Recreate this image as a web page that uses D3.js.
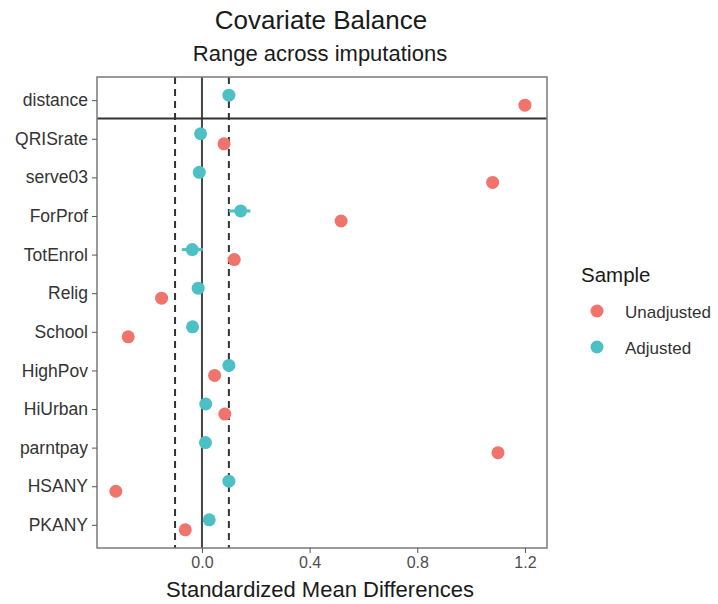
<!DOCTYPE html>
<html>
<head>
<meta charset="utf-8">
<script src="https://cdn.jsdelivr.net/npm/d3@7"></script>
<style>
  body { margin: 0; background: #fff; }
  svg { font-family: "Liberation Sans", Arial, sans-serif; }
</style>
</head>
<body>
<div id="chart"></div>
<script>
// covariates, top to bottom
var covariates = ["distance", "QRISrate", "serve03", "ForProf", "TotEnrol", "Relig",
                  "School", "HighPov", "HiUrban", "parntpay", "HSANY", "PKANY"];
// standardized mean differences
var unadjusted = [1.20, 0.082, 1.08, 0.517, 0.12, -0.15, -0.274, 0.047, 0.085, 1.10, -0.32, -0.062];
var adjusted   = [0.10, -0.005, -0.01, 0.144, -0.036, -0.014, -0.035, 0.10, 0.014, 0.013, 0.10, 0.027];
// range across imputations (adjusted)
var adjustedMin = [0.10, -0.005, -0.01, 0.10, -0.075, -0.014, -0.035, 0.10, 0.014, 0.013, 0.10, 0.027];
var adjustedMax = [0.10, -0.005, -0.01, 0.18, 0.003, -0.014, -0.035, 0.10, 0.014, 0.013, 0.10, 0.027];
var xTicks = [0, 0.4, 0.8, 1.2];
var threshold = 0.1;
var sampleNames = ["Unadjusted", "Adjusted"];
var sampleColors = ["#F0736C", "#4DC0C5"];

document.addEventListener('DOMContentLoaded', function () {
    var width = 718, height = 604;
    var panel = {left: 97, right: 547, top: 77, bottom: 548};

    var svg = d3.select("#chart").append("svg")
        .attr("width", width)
        .attr("height", height);

    var x = d3.scaleLinear()
        .domain([-0.39, 1.282])
        .range([panel.left, panel.right]);

    var y = d3.scalePoint()
        .domain(covariates)
        .range([panel.top, panel.bottom])
        .padding(0.6);

    var dodge = y.step() * 0.13;

    // titles
    svg.append("text")
        .attr("x", 321)
        .attr("y", 29)
        .attr("text-anchor", "middle")
        .style("font-size", "26px")
        .style("fill", "#1a1a1a")
        .text("Covariate Balance");

    svg.append("text")
        .attr("x", 320)
        .attr("y", 61)
        .attr("text-anchor", "middle")
        .style("font-size", "22px")
        .style("fill", "#1a1a1a")
        .text("Range across imputations");

    // threshold lines
    [-threshold, threshold].forEach(function (t) {
        svg.append("line")
            .attr("x1", x(t)).attr("x2", x(t))
            .attr("y1", panel.top).attr("y2", panel.bottom)
            .attr("stroke", "#333")
            .attr("stroke-width", 2)
            .attr("stroke-dasharray", "7,5");
    });

    // zero line
    svg.append("line")
        .attr("x1", x(0)).attr("x2", x(0))
        .attr("y1", panel.top).attr("y2", panel.bottom)
        .attr("stroke", "#444")
        .attr("stroke-width", 2);

    // separator under distance
    var sepY = (y(covariates[0]) + y(covariates[1])) / 2 - 1;
    svg.append("line")
        .attr("x1", panel.left).attr("x2", panel.right)
        .attr("y1", sepY).attr("y2", sepY)
        .attr("stroke", "#333")
        .attr("stroke-width", 2);

    // range lines for adjusted
    svg.selectAll(".rangeLine")
        .data(covariates)
        .enter()
        .append("line")
        .attr("class", "rangeLine")
        .attr("x1", function (d, i) { return x(adjustedMin[i]); })
        .attr("x2", function (d, i) { return x(adjustedMax[i]); })
        .attr("y1", function (d) { return y(d) - dodge; })
        .attr("y2", function (d) { return y(d) - dodge; })
        .attr("stroke", sampleColors[1])
        .attr("stroke-width", 3);

    // unadjusted points
    svg.selectAll(".unadj")
        .data(covariates)
        .enter()
        .append("circle")
        .attr("class", "unadj")
        .attr("cx", function (d, i) { return x(unadjusted[i]); })
        .attr("cy", function (d) { return y(d) + dodge; })
        .attr("r", 6.5)
        .style("fill", sampleColors[0]);

    // adjusted points
    svg.selectAll(".adj")
        .data(covariates)
        .enter()
        .append("circle")
        .attr("class", "adj")
        .attr("cx", function (d, i) { return x(adjusted[i]); })
        .attr("cy", function (d) { return y(d) - dodge; })
        .attr("r", 6.5)
        .style("fill", sampleColors[1]);

    // panel border
    svg.append("rect")
        .attr("x", panel.left).attr("y", panel.top)
        .attr("width", panel.right - panel.left)
        .attr("height", panel.bottom - panel.top)
        .attr("fill", "none")
        .attr("stroke", "#7a7a7a")
        .attr("stroke-width", 1.5);

    // axes
    var xAxis = svg.append("g")
        .attr("transform", "translate(0," + panel.bottom + ")")
        .call(d3.axisBottom(x).tickValues(xTicks).tickFormat(d3.format(".1f")).tickSize(5).tickPadding(4));
    xAxis.select(".domain").remove();
    xAxis.selectAll("line").attr("stroke", "#555");
    xAxis.selectAll("text").style("font-size", "16px").style("fill", "#4d4d4d")
        .style("font-family", "Liberation Sans, Arial, sans-serif");

    var yAxis = svg.append("g")
        .attr("transform", "translate(" + panel.left + ",0)")
        .call(d3.axisLeft(y).tickSize(5).tickPadding(4));
    yAxis.select(".domain").remove();
    yAxis.selectAll("line").attr("stroke", "#555");
    yAxis.selectAll("text").style("font-size", "17.5px").style("fill", "#333")
        .style("font-family", "Liberation Sans, Arial, sans-serif");

    // x-axis title
    svg.append("text")
        .attr("x", 320)
        .attr("y", 597)
        .attr("text-anchor", "middle")
        .style("font-size", "22px")
        .style("fill", "#1a1a1a")
        .text("Standardized Mean Differences");

    // legend
    var legend = svg.append("g");
    legend.append("text")
        .attr("x", 581)
        .attr("y", 282)
        .style("font-size", "20.5px")
        .style("fill", "#1a1a1a")
        .text("Sample");

    sampleNames.forEach(function (name, i) {
        var ly = 311 + i * 36;
        legend.append("circle")
            .attr("cx", 597)
            .attr("cy", ly)
            .attr("r", 6.5)
            .style("fill", sampleColors[i]);
        legend.append("text")
            .attr("x", 625)
            .attr("y", ly + 7)
            .style("font-size", "17px")
            .style("fill", "#333")
            .text(name);
    });
});
</script>
</body>
</html>
